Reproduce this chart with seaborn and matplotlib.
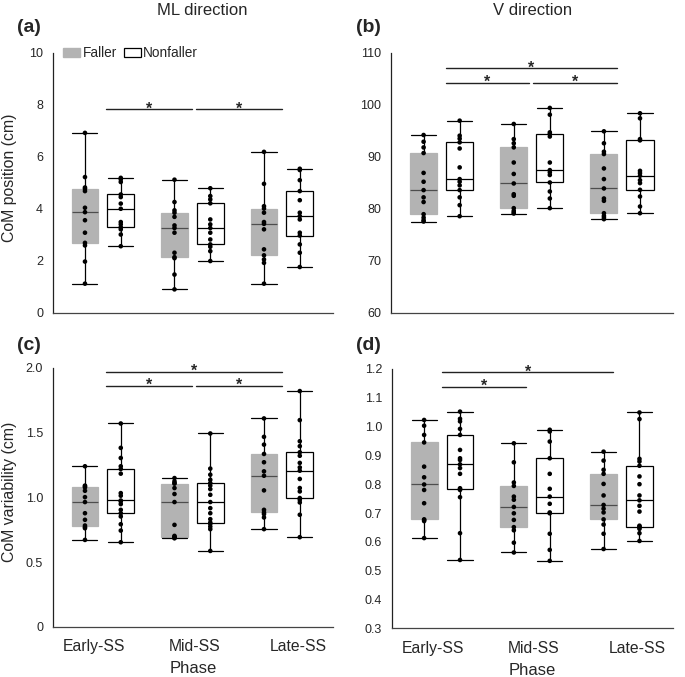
import numpy as np
import pandas as pd
import matplotlib
matplotlib.use("Agg")
import matplotlib.pyplot as plt
import seaborn as sns
from matplotlib.patches import Patch

phases = ["Early-SS", "Mid-SS", "Late-SS"]
groups = ["Faller", "Nonfaller"]

# (a) CoM position, ML direction (cm)
a_early_f = [1.12, 1.97, 2.59, 2.69, 3.08, 3.56, 3.87, 4.04, 4.68, 4.77, 4.82, 5.22, 6.92]
a_early_nf = [2.56, 3.01, 3.21, 3.29, 3.40, 3.49, 4.00, 4.20, 4.45, 4.55, 5.03, 5.13, 5.19]
a_mid_f = [0.90, 1.47, 2.10, 2.14, 2.31, 3.08, 3.26, 3.36, 3.69, 3.85, 3.94, 4.26, 5.12]
a_mid_nf = [1.99, 2.37, 2.54, 2.63, 2.82, 3.08, 3.26, 3.40, 3.59, 4.21, 4.36, 4.49, 4.79]
a_late_f = [1.12, 1.92, 2.05, 2.21, 2.44, 3.21, 3.42, 3.49, 3.85, 4.01, 4.10, 4.96, 6.19]
a_late_nf = [1.76, 2.31, 2.63, 2.97, 3.08, 3.59, 3.72, 3.85, 4.33, 4.68, 5.10, 5.49, 5.54]

# (b) CoM position, V direction (cm)
b_early_f = [77.55, 77.8, 78.3, 78.96, 81.3, 82.2, 83.59, 85.2, 86.9, 90.72, 91.8, 92.9, 94.19]
b_early_nf = [78.57, 80.7, 82.2, 83.59, 84.5, 85.2, 85.71, 87.96, 91.6, 92.78, 93.5, 94.06, 96.95]
b_mid_f = [79.09, 79.28, 79.6, 80.12, 82.5, 82.8, 84.87, 86.7, 88.9, 91.81, 92.6, 93.4, 96.31]
b_mid_nf = [80.12, 81.98, 83.33, 85.06, 86.5, 87.0, 87.44, 88.9, 93.9, 94.38, 94.7, 98.1, 99.4]
b_late_f = [78.0, 78.32, 78.64, 79.15, 81.53, 81.98, 83.91, 85.71, 87.76, 90.53, 90.98, 92.6, 94.9]
b_late_nf = [79.15, 80.44, 82.36, 83.65, 84.94, 85.5, 86.35, 86.86, 87.3, 93.16, 93.4, 97.4, 98.37]

# (c) CoM variability, ML direction (cm)
c_early_f = [0.671, 0.761, 0.770, 0.782, 0.826, 0.877, 0.963, 1.001, 1.050, 1.076, 1.084, 1.090, 1.239]
c_early_nf = [0.653, 0.743, 0.792, 0.852, 0.877, 0.903, 0.947, 0.968, 0.975, 1.012, 1.032, 1.182,
              1.218, 1.239, 1.303, 1.381, 1.569]
c_mid_f = [0.684, 0.686, 0.690, 0.695, 0.702, 0.787, 0.963, 1.025, 1.071, 1.105, 1.110, 1.123, 1.148]
c_mid_nf = [0.586, 0.754, 0.774, 0.795, 0.805, 0.831, 0.877, 0.916, 0.963, 1.019, 1.063, 1.090,
            1.110, 1.135, 1.174, 1.221, 1.492]
c_late_f = [0.754, 0.844, 0.870, 0.883, 0.903, 1.053, 1.166, 1.200, 1.270, 1.334, 1.406, 1.466, 1.608]
c_late_nf = [0.692, 0.865, 0.960, 0.981, 0.994, 1.045, 1.071, 1.141, 1.205, 1.230, 1.265, 1.320,
             1.347, 1.394, 1.432, 1.595, 1.819]

# (d) CoM variability, V direction (cm)
d_early_f = [0.613, 0.672, 0.676, 0.678, 0.734, 0.780, 0.799, 0.824, 0.861, 0.945, 0.971, 1.003, 1.023]
d_early_nf = [0.537, 0.630, 0.755, 0.780, 0.783, 0.786, 0.836, 0.856, 0.869, 0.884, 0.890, 0.919,
              0.971, 0.992, 1.018, 1.027, 1.052]
d_mid_f = [0.563, 0.597, 0.640, 0.651, 0.676, 0.699, 0.721, 0.746, 0.757, 0.794, 0.806, 0.876, 0.942]
d_mid_nf = [0.534, 0.572, 0.628, 0.699, 0.702, 0.732, 0.757, 0.784, 0.836, 0.890, 0.948, 0.983, 0.989]
d_late_f = [0.575, 0.628, 0.660, 0.678, 0.702, 0.715, 0.728, 0.761, 0.801, 0.836, 0.850, 0.882, 0.913]
d_late_nf = [0.603, 0.630, 0.645, 0.650, 0.653, 0.656, 0.705, 0.725, 0.744, 0.761, 0.800, 0.827,
             0.864, 0.879, 0.888, 1.026, 1.049]

# significance bars: (x start, x end, y)
sig_a = [(0.03, 1.0, 7.82), (1.035, 2.0, 7.82)]
sig_b = [(0.045, 1.95, 107.0), (0.045, 0.97, 104.2), (1.01, 1.95, 104.2)]
sig_c = [(0.03, 2.0, 1.969), (0.03, 1.0, 1.858), (1.035, 2.0, 1.858)]
sig_d = [(0.0, 1.91, 1.189), (0.0, 0.93, 1.139)]


def to_long(lists):
    rows = []
    i = 0
    for ph in phases:
        for g in groups:
            for v in lists[i]:
                rows.append({"Phase": ph, "Group": g, "value": v})
            i += 1
    return pd.DataFrame(rows)


df_a = to_long([a_early_f, a_early_nf, a_mid_f, a_mid_nf, a_late_f, a_late_nf])
df_b = to_long([b_early_f, b_early_nf, b_mid_f, b_mid_nf, b_late_f, b_late_nf])
df_c = to_long([c_early_f, c_early_nf, c_mid_f, c_mid_nf, c_late_f, c_late_nf])
df_d = to_long([d_early_f, d_early_nf, d_mid_f, d_mid_nf, d_late_f, d_late_nf])

sns.set_style("white")
plt.rcParams['font.family'] = ['Liberation Sans', 'DejaVu Sans']

box_colors = {"Faller": "#b3b3b3", "Nonfaller": "white"}
fall_grey = "#b3b3b3"


def panel(ax, df, ylim, yticks, ylabels, sig, bottom=False, ylabel=None):
    sns.boxplot(data=df, x="Phase", y="value", hue="Group", order=phases, hue_order=groups,
                palette=box_colors, whis=(0, 100), gap=0.25, linecolor="black", linewidth=0.9,
                showfliers=False, capwidths=0.28, legend=False, ax=ax)
    sns.stripplot(data=df, x="Phase", y="value", hue="Group", order=phases, hue_order=groups,
                  palette={"Faller": "black", "Nonfaller": "black"}, dodge=True, jitter=False,
                  size=3.3, linewidth=0, legend=False, ax=ax, zorder=4)
    # faller boxes: grey fill without outline, grey median
    for p in ax.patches:
        fc = p.get_facecolor()
        if fc[0] < 0.9:
            p.set_edgecolor(fc)
            ext = p.get_path().get_extents()
            for ln in ax.lines:
                xd, yd = np.asarray(ln.get_xdata()), np.asarray(ln.get_ydata())
                if len(yd) == 2 and yd[0] == yd[1] and ext.y0 < yd[0] < ext.y1 \
                        and ext.x0 - 1e-6 <= xd.mean() <= ext.x1 + 1e-6:
                    ln.set_color("#4d4d4d")

    for x0, x1, y in sig:
        ax.plot([x0, x1], [y, y], color="#222222", lw=1.0)
        ax.annotate("*", xy=((x0 + x1) / 2, y), xytext=(0, -3), textcoords="offset points",
                    ha="center", va="baseline", fontsize=11.5, fontweight="bold")

    ax.set_xlim(-0.56, 2.57)
    ax.set_ylim(*ylim)
    ax.set_yticks(yticks)
    ax.set_yticklabels(ylabels)
    if bottom:
        ax.set_xticks([-0.1, 1.02, 2.18])
        ax.set_xticklabels(phases)
        ax.set_xlabel("Phase", fontsize=12, labelpad=5)
    else:
        ax.set_xticks([])
        ax.set_xlabel("")
    if ylabel:
        ax.set_ylabel(ylabel, fontsize=11.4)
        ax.yaxis.set_label_coords(-0.128, 0.52)
    else:
        ax.set_ylabel("")
    ax.tick_params(axis="y", length=0, labelsize=9, pad=7)
    ax.tick_params(axis="x", length=0, labelsize=11.3, pad=9)
    sns.despine(ax=ax)
    ax.spines["left"].set_color("#222222")
    ax.spines["left"].set_linewidth(0.9)
    ax.spines["bottom"].set_color("#444444")
    ax.spines["bottom"].set_linewidth(0.9)


fig = plt.figure(figsize=(6.85, 6.77), dpi=100)
ax_a = fig.add_axes([0.077, 0.538, 0.409, 0.384])
ax_b = fig.add_axes([0.571, 0.538, 0.412, 0.384])
ax_c = fig.add_axes([0.077, 0.074, 0.409, 0.383])
ax_d = fig.add_axes([0.572, 0.072, 0.410, 0.383])

panel(ax_a, df_a, (0, 10), [0, 2, 4, 6, 8, 10], ["0", "2", "4", "6", "8", "10"], sig_a,
      ylabel="CoM position (cm)")
panel(ax_b, df_b, (60, 110), [60, 70, 80, 90, 100, 110], ["60", "70", "80", "90", "100", "110"], sig_b)
panel(ax_c, df_c, (0, 2.0), [0, 0.5, 1.0, 1.5, 2.0], ["0", "0.5", "1.0", "1.5", "2.0"], sig_c,
      bottom=True, ylabel="CoM variability (cm)")
d_ticks = [0.3, 0.4, 0.5, 0.6, 0.7, 0.8, 0.9, 1.0, 1.1, 1.2]
panel(ax_d, df_d, (0.3, 1.2), d_ticks, [f"{t:.1f}" for t in d_ticks], sig_d, bottom=True)

handles = [Patch(facecolor=fall_grey, edgecolor=fall_grey, label="Faller"),
           Patch(facecolor="white", edgecolor="black", linewidth=0.9, label="Nonfaller")]
ax_a.legend(handles=handles, loc="upper left", bbox_to_anchor=(0.038, 1.025), ncol=2,
            frameon=False, fontsize=9.8, handlelength=1.25, handleheight=0.65,
            handletextpad=0.2, columnspacing=0.45, borderaxespad=0, borderpad=0)

fig.text(0.295, 0.985, "ML direction", ha="center", va="center", fontsize=12)
fig.text(0.778, 0.985, "V direction", ha="center", va="center", fontsize=12)
for lab, x, y in [("(a)", 0.025, 0.959), ("(b)", 0.52, 0.959), ("(c)", 0.025, 0.49), ("(d)", 0.52, 0.49)]:
    fig.text(x, y, lab, ha="left", va="center", fontsize=14, fontweight="bold")

fig.savefig("out.png", dpi=100)
